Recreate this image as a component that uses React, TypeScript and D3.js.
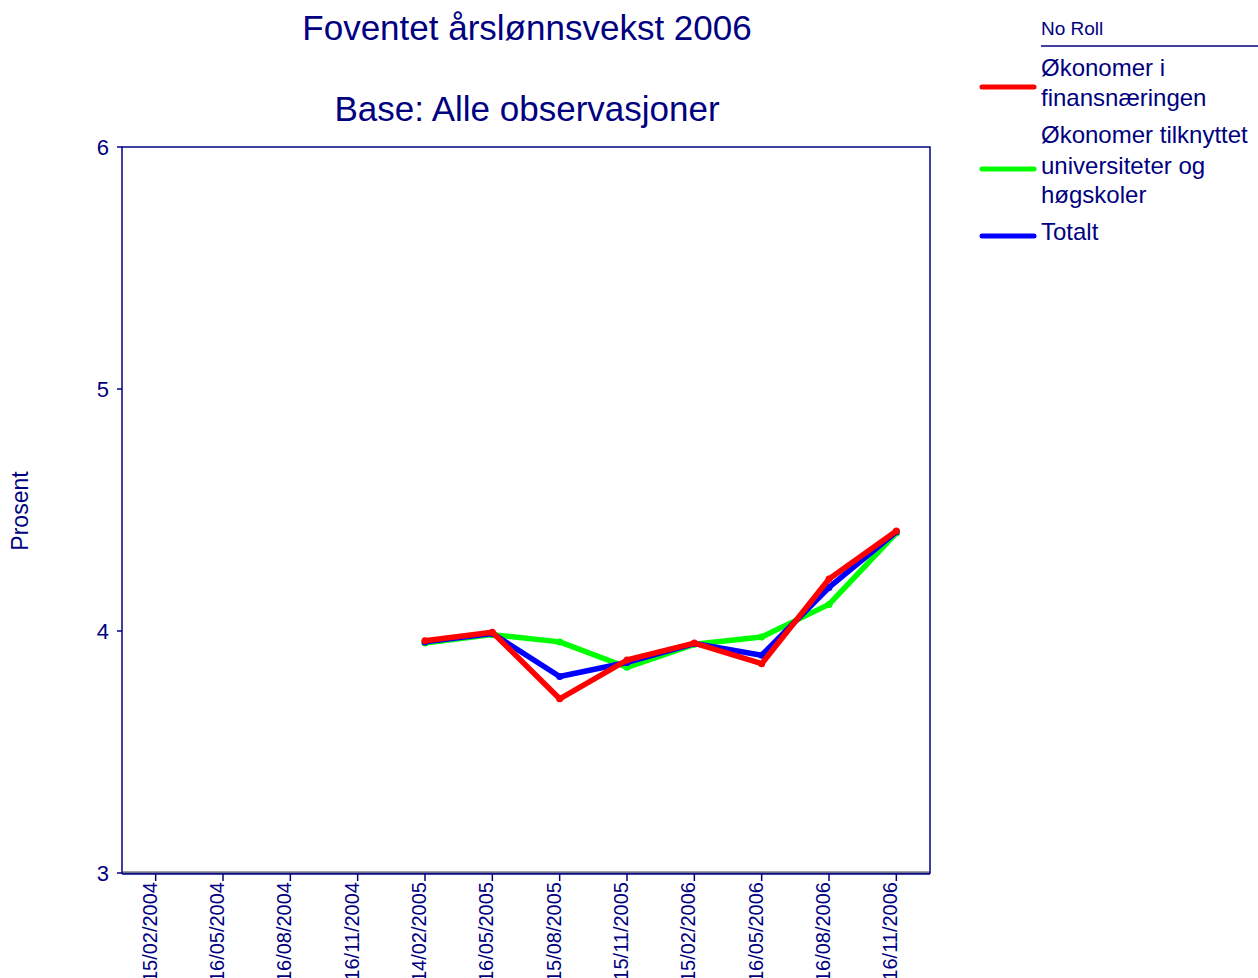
import React from "react";
import * as d3 from "d3";

const categories = [
  "15/02/2004", "16/05/2004", "16/08/2004", "16/11/2004",
  "14/02/2005", "16/05/2005", "15/08/2005", "15/11/2005",
  "15/02/2006", "16/05/2006", "16/08/2006", "16/11/2006",
];
const finans: (number | null)[] = [null, null, null, null, 3.96, 3.995, 3.72, 3.88, 3.95, 3.865, 4.215, 4.413];
const universitet: (number | null)[] = [null, null, null, null, 3.95, 3.985, 3.955, 3.85, 3.945, 3.975, 4.11, 4.405];
const totalt: (number | null)[] = [null, null, null, null, 3.955, 3.99, 3.812, 3.87, 3.948, 3.9, 4.18, 4.41];
const yTicks = [3, 4, 5, 6];

const series = [
  { name: ["Økonomer tilknyttet", "universiteter og", "høgskoler"], values: universitet, color: "#00ff00" },
  { name: ["Totalt"], values: totalt, color: "#0000ff" },
  { name: ["Økonomer i", "finansnæringen"], values: finans, color: "#ff0000" },
];
const legendOrder = [2, 0, 1];

const W = 1258, H = 978;
const L = 122, R = 930, T = 147, B = 873;
const NAVY = "#000080";
const FONT = "'Liberation Sans', Arial, sans-serif";

export default function App() {
  const x = d3.scalePoint<string>().domain(categories).range([L, R]).padding(0.5);
  const y = d3.scaleLinear().domain([3, 6]).range([B, T]);
  const line = d3
    .line<{ c: string; v: number | null }>()
    .defined((d) => d.v !== null)
    .x((d) => x(d.c)!)
    .y((d) => y(d.v as number));

  const legendY = [
    { lineY: 87, textY: [76, 106] },
    { lineY: 169, textY: [143, 174, 203] },
    { lineY: 236, textY: [240] },
  ];

  return (
    <svg width={W} height={H} style={{ position: "absolute", left: 0, top: 0, background: "#fff" }} fontFamily={FONT}>
      <rect x={0} y={0} width={W} height={H} fill="#fff" />
      <text x={527} y={40} textAnchor="middle" fontSize={35} fill={NAVY}>Foventet årslønnsvekst 2006</text>
      <text x={527} y={121} textAnchor="middle" fontSize={35} fill={NAVY}>Base: Alle observasjoner</text>

      {/* plot frame */}
      <rect x={L} y={T} width={R - L} height={B - T} fill="#fff" stroke={NAVY} strokeWidth={1.5} />
      <line x1={L + 1} x2={R - 1} y1={B - 1} y2={B - 1} stroke="#808080" strokeWidth={1.5} />
      <line x1={L} x2={R} y1={B + 1} y2={B + 1} stroke={NAVY} strokeWidth={1.5} />

      {/* y axis ticks */}
      {yTicks.map((t) => (
        <g key={t}>
          <line x1={L - 5} x2={L} y1={y(t)} y2={y(t)} stroke={NAVY} strokeWidth={1.5} />
          <text x={109} y={y(t) + 8} textAnchor="end" fontSize={22} fill={NAVY}>{t}</text>
        </g>
      ))}
      <text transform={`translate(28,511) rotate(-90)`} textAnchor="middle" fontSize={23} fill={NAVY}>Prosent</text>

      {/* x axis ticks */}
      {categories.map((c) => (
        <g key={c}>
          <line x1={x(c)} x2={x(c)} y1={B + 1} y2={B + 8} stroke={NAVY} strokeWidth={1.5} />
          <text transform={`translate(${x(c)! + 1},${B + 9}) rotate(-90)`} textAnchor="end" fontSize={20} fill={NAVY}>{c}</text>
        </g>
      ))}

      {/* lines */}
      {series.map((s, i) => {
        const data = categories.map((c, j) => ({ c, v: s.values[j] }));
        return (
          <g key={i}>
            <path d={line(data) || ""} fill="none" stroke={s.color} strokeWidth={5.5} strokeLinejoin="round" strokeLinecap="round" />
            {data.filter((d) => d.v !== null).map((d) => (
              <circle key={d.c} cx={x(d.c)} cy={y(d.v as number)} r={3.5} fill={s.color} />
            ))}
          </g>
        );
      })}

      {/* legend */}
      <text x={1041} y={35} fontSize={19} fill={NAVY}>No Roll</text>
      <line x1={1041} x2={1258} y1={46} y2={46} stroke={NAVY} strokeWidth={1.5} />
      {legendOrder.map((si, k) => {
        const s = series[si];
        const pos = legendY[k];
        return (
          <g key={k}>
            <line x1={982} x2={1034} y1={pos.lineY} y2={pos.lineY} stroke={s.color} strokeWidth={5} strokeLinecap="round" />
            {s.name.map((n, j) => (
              <text key={j} x={1041} y={pos.textY[j]} fontSize={24} fill={NAVY}>{n}</text>
            ))}
          </g>
        );
      })}
    </svg>
  );
}
